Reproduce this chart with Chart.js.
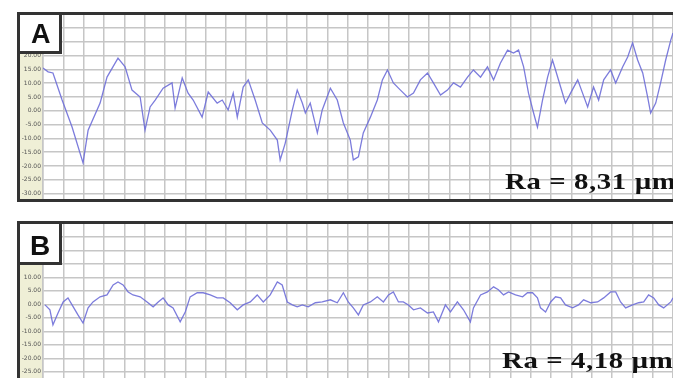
<!DOCTYPE html>
<html><head><meta charset="utf-8">
<script src="https://cdn.jsdelivr.net/npm/chart.js@4/dist/chart.umd.min.js"></script>
<style>
html,body{margin:0;padding:0;background:#fff;width:673px;height:378px;overflow:hidden;position:relative;}
.frame{position:absolute;box-sizing:border-box;border-left:3px solid #333;border-top:3px solid #333;border-bottom:3px solid #333;}
#fa{left:17px;top:12px;width:656px;height:190px;}
#fb{left:17px;top:221px;width:656px;height:170px;}
canvas{position:absolute;}
#ca{left:20px;top:15px;}
#cb{left:20px;top:224px;}
.lbl{position:absolute;box-sizing:border-box;background:#fff;border:3px solid #333;}
.lbl span{position:absolute;font-family:"Liberation Sans",Arial,sans-serif;font-weight:bold;color:#111;line-height:1;}
.ra{position:absolute;font-family:"Liberation Serif","Times New Roman",serif;font-weight:bold;color:#111;white-space:nowrap;line-height:1;transform-origin:0 0;letter-spacing:0.5px;}
</style></head>
<body>
<div class="frame" id="fa"></div>
<div class="frame" id="fb"></div>
<canvas id="ca" width="653" height="184"></canvas>
<canvas id="cb" width="653" height="154"></canvas>
<div class="lbl" style="left:17px;top:12px;width:45px;height:42px;"><span style="left:11px;top:5.5px;font-size:27px;">A</span></div>
<div class="lbl" style="left:17px;top:221px;width:45px;height:44px;"><span style="left:10px;top:7.5px;font-size:28px;">B</span></div>
<div class="ra" id="raA" style="left:505px;top:170px;font-size:23px;transform:scaleX(1.25);"></div>
<div class="ra" id="raB" style="left:502px;top:348px;font-size:24px;transform:scaleX(1.2);"></div>
<script>
// Profile A (x in grid units along the trace, y in µm)
const A_X = [0.00,0.25,0.49,0.94,1.43,1.97,2.22,2.81,3.15,3.69,4.04,4.38,4.78,5.02,5.27,5.52,5.91,6.35,6.50,6.85,7.14,7.39,7.83,8.13,8.57,8.82,9.11,9.36,9.56,9.85,10.10,10.44,10.79,11.18,11.53,11.67,11.92,12.27,12.51,12.76,12.91,13.15,13.50,13.74,14.14,14.48,14.78,15.12,15.27,15.52,15.76,16.11,16.45,16.70,16.95,17.24,17.59,17.93,18.23,18.57,18.92,19.21,19.56,19.90,20.20,20.54,20.89,21.18,21.53,21.87,22.17,22.51,22.86,23.15,23.40,23.65,23.89,24.14,24.33,24.58,24.83,25.07,25.22,25.47,25.71,25.96,26.31,26.55,26.80,27.09,27.34,27.59,27.93,28.18,28.52,28.77,29.01,29.26,29.51,29.75,29.90,30.15,30.39,30.64,30.89,31.00];
const A_Y = [15.5,14.1,13.7,3.9,-5.9,-18.9,-7.0,2.8,12.2,19.1,15.9,7.5,5.0,-7.0,1.4,3.9,8.2,10.1,1.0,11.9,6.4,3.9,-2.3,6.8,2.8,3.9,0.3,6.4,-2.3,8.6,11.2,3.9,-4.4,-7.0,-10.6,-17.8,-11.7,0.3,7.5,2.8,-0.8,2.8,-8.0,0.3,8.2,3.9,-4.4,-10.6,-17.8,-16.7,-8.0,-2.3,3.9,11.2,14.8,10.1,7.5,5.0,6.4,11.2,13.7,10.1,5.7,7.5,10.1,8.6,12.2,14.8,12.2,15.9,11.2,17.3,22.0,20.9,22.0,15.9,6.4,-0.8,-5.9,3.9,12.2,18.4,14.8,8.6,2.8,6.4,11.2,6.4,1.4,8.6,3.9,11.2,14.8,10.1,15.9,19.5,24.6,18.4,13.7,5.0,-0.8,2.8,10.1,18.4,25.6,28.2];
// Profile B
const B_X = [0.10,0.34,0.49,0.74,0.99,1.23,1.43,1.72,1.97,2.22,2.46,2.81,3.15,3.45,3.69,3.94,4.19,4.43,4.78,5.12,5.42,5.67,5.91,6.16,6.40,6.75,7.00,7.24,7.59,7.88,8.23,8.57,8.87,9.21,9.56,9.85,10.20,10.54,10.84,11.18,11.53,11.77,12.02,12.27,12.51,12.76,13.05,13.40,13.74,14.14,14.48,14.78,15.02,15.27,15.52,15.76,16.11,16.45,16.75,17.00,17.24,17.49,17.73,17.98,18.23,18.57,18.92,19.21,19.46,19.80,20.05,20.39,20.69,21.03,21.18,21.53,21.87,22.17,22.41,22.66,22.91,23.25,23.60,23.84,24.09,24.33,24.48,24.73,24.98,25.22,25.47,25.71,26.06,26.35,26.60,26.95,27.29,27.59,27.93,28.18,28.42,28.67,29.01,29.31,29.56,29.80,30.05,30.30,30.54,30.89,31.00];
const B_Y = [-0.2,-2.0,-7.6,-3.2,0.9,2.4,-0.2,-3.9,-6.9,-1.3,0.9,2.8,3.5,7.2,8.3,7.2,4.6,3.5,2.8,0.9,-0.9,0.9,2.4,-0.2,-1.3,-6.5,-2.8,2.8,4.3,4.3,3.5,2.4,2.4,0.6,-2.0,-0.2,0.9,3.5,0.9,3.5,8.3,7.2,0.9,-0.2,-0.9,-0.2,-0.9,0.6,0.9,1.7,0.6,4.3,0.9,-1.3,-3.9,-0.2,0.9,2.8,0.9,3.5,4.6,0.9,0.9,-0.2,-2.0,-1.3,-3.2,-2.8,-6.5,-0.2,-2.8,0.9,-2.0,-6.5,-1.3,3.5,4.6,6.5,5.4,3.5,4.6,3.5,2.8,4.3,4.3,2.4,-1.3,-2.8,0.9,2.8,2.4,-0.2,-1.3,-0.2,1.7,0.6,0.9,2.4,4.6,4.6,0.9,-1.3,-0.2,0.6,0.9,3.5,2.4,-0.2,-1.3,0.9,2.4];
const X_MAX = 31;
const A_TICKS = [30,25,20,15,10,5,0,-5,-10,-15,-20,-25,-30];
const A_TICK_LABELS = ["30.00","25.00","20.00","15.00","10.00","5.00","0.00","-5.00","-10.00","-15.00","-20.00","-25.00","-30.00"];
const B_TICKS = [25,20,15,10,5,0,-5,-10,-15,-20,-25];
const B_TICK_LABELS = ["25.00","20.00","15.00","10.00","5.00","0.00","-5.00","-10.00","-15.00","-20.00","-25.00"];
const A_RANGE = [-31.96, 34.71];
const B_RANGE = [-27.3, 29.8];
const RA_A = "Ra = 8,31 µm";
const RA_B = "Ra = 4,18 µm";

document.getElementById('raA').textContent = RA_A;
document.getElementById('raB').textContent = RA_B;

const GRID = '#c6c6c6';
const colBg = {id:'colBg', beforeDraw(c){const s=c.scales.y, ctx=c.ctx; ctx.save(); ctx.fillStyle='#efefd6'; ctx.fillRect(s.left, s.top, s.right - s.left, s.bottom - s.top); ctx.restore();}};

function makeChart(id, xs, ys, tickVals, tickLabels, range) {
  const data = xs.map((x,i)=>({x:x, y:ys[i]}));
  return new Chart(document.getElementById(id), {
    type:'line',
    data:{datasets:[{data:data, borderColor:'rgba(110,110,216,0.9)', borderWidth:1.3, pointRadius:0, tension:0, fill:false}]},
    options:{responsive:false, animation:false, devicePixelRatio:1, layout:{padding:0},
      plugins:{legend:{display:false}, tooltip:{enabled:false}},
      scales:{
        x:{type:'linear', min:0, max:X_MAX, ticks:{display:false, stepSize:1}, grid:{color:GRID, lineWidth:1.5, drawTicks:false}, border:{display:false},
           afterFit(s){s.height=0; s.paddingLeft=0; s.paddingRight=0;}},
        y:{type:'linear', min:range[0], max:range[1],
           afterBuildTicks(s){s.ticks = tickVals.map(v=>({value:v}));},
           ticks:{autoSkip:false, font:{size:6, family:'DejaVu Sans'}, color:'#555', padding:2,
                  callback:(v)=>{const i=tickVals.indexOf(v); return i>=0?tickLabels[i]:'';}},
           grid:{color:GRID, lineWidth:1.5, drawTicks:false}, border:{display:true, color:GRID, width:1.5},
           afterFit(s){s.width=23; s.paddingTop=0; s.paddingBottom=0;}}
      }
    },
    plugins:[colBg]
  });
}
makeChart('ca', A_X, A_Y, A_TICKS, A_TICK_LABELS, A_RANGE);
makeChart('cb', B_X, B_Y, B_TICKS, B_TICK_LABELS, B_RANGE);
</script>
</body></html>
